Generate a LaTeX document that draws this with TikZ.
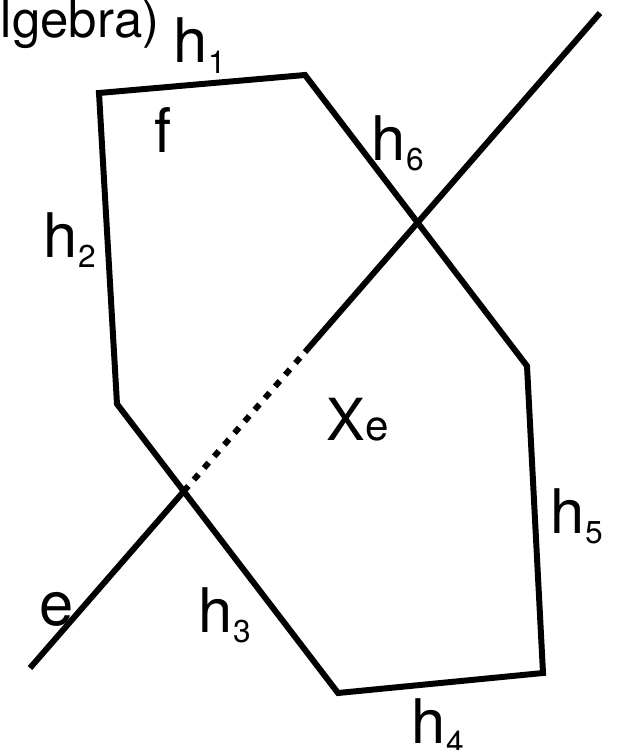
\documentclass[tikz,border=0pt]{standalone}
\usepackage{fontspec}
\setmainfont{TeX Gyre Heros}
\newcommand{\hsub}[1]{{\fontsize{35}{40}\selectfont h}\raisebox{-6pt}{\fontsize{18}{20}\selectfont #1}}
\begin{document}
\begin{tikzpicture}[x=0.02cm, y=-0.02cm, line width=3.4pt,
    lbl/.style={inner sep=0pt, anchor=base west}]
    \useasboundingbox (0,0) rectangle (621,750);
    \clip (0,0) rectangle (621,750);

    % Face f - bounded by the half-planes h1..h6
    \coordinate (p1) at (99,93);
    \coordinate (p2) at (305,75);
    \coordinate (p3) at (527,366);
    \coordinate (p4) at (543,673);
    \coordinate (p5) at (338,693);
    \coordinate (p6) at (117,404);
    \draw (p1) -- (p2) -- (p3) -- (p4) -- (p5) -- (p6) -- cycle;

    % Line e crossing the face
    \coordinate (e0) at (30,668);
    \coordinate (e1) at (600,13);
    \coordinate (lo) at (intersection of e0--e1 and p5--p6);
    \coordinate (hi) at (intersection of e0--e1 and p2--p3);
    \coordinate (mid) at (intersection of e0--e1 and 0,352--621,352);
    \draw (e0) -- (lo);
    \draw[dash pattern=on 4pt off 4.8pt] (lo) -- (mid);
    \draw (mid) -- (e1);

    % Labels
    \node[lbl] (title) at (-36,38) {\fontsize{29}{33}\selectfont Algebra)};
    \node[lbl] (h1) at (171,63) {\hsub{1}};
    \node[lbl] (h2) at (41,257) {\hsub{2}};
    \node[lbl] (h3) at (196,632) {\hsub{3}};
    \node[lbl] (h4) at (409,743) {\hsub{4}};
    \node[lbl] (h5) at (548,533) {\hsub{5}};
    \node[lbl] (h6) at (369,160) {\hsub{6}};
    \node[lbl, anchor=base] (f) at (163,153) {\fontsize{35}{40}\selectfont f};
    \node[lbl] (xe) at (324,440) {{\fontsize{33}{38}\selectfont X}{\fontsize{24}{28}\selectfont e}};
    \node[lbl] (e) at (37,625) {\fontsize{35}{40}\selectfont e};
\end{tikzpicture}
\end{document}
